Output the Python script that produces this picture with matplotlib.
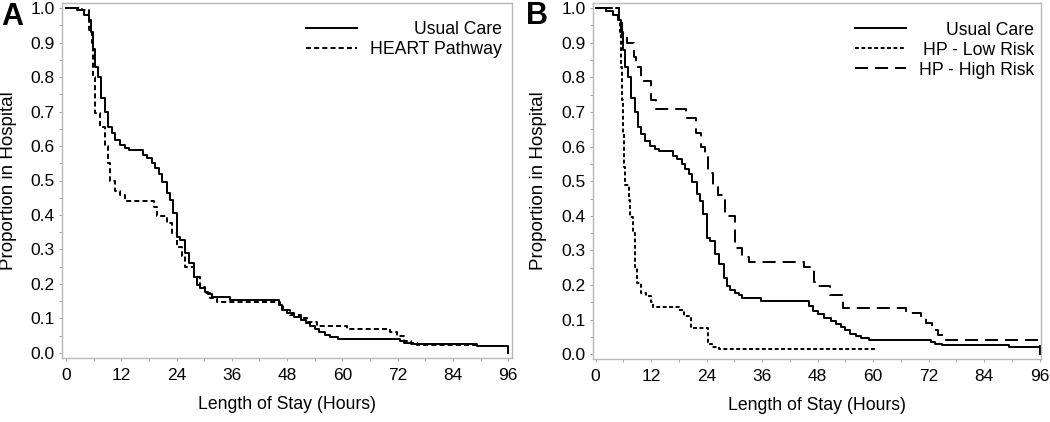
import matplotlib
matplotlib.use("Agg")
import matplotlib.pyplot as plt
from matplotlib.ticker import MultipleLocator
from matplotlib.lines import Line2D

plt.rcParams['font.family'] = ['Liberation Sans', 'DejaVu Sans']

# ---------------- data (hours, proportion still in hospital) ----------------
uc_t = [0, 2.3, 3.8, 4.9, 5.4, 5.9, 6.3, 7.0, 7.7, 8.5, 9.2, 9.9, 10.7, 11.7, 12.8,
        13.6, 16.8, 17.5, 18.6, 19.3, 20.1, 20.8, 21.9, 22.6, 23.3, 24.1, 24.8, 25.9,
        26.6, 27.7, 28.4, 29.1, 30.2, 30.9, 31.7, 35.7, 46.2, 46.9, 48.0, 49.4, 50.9,
        52.0, 53.0, 54.0, 54.9, 56.3, 57.4, 59.0, 72.6, 73.3, 74.8, 89.3, 96, 96]
uc_s = [1.0, 0.993, 0.98, 0.965, 0.93, 0.88, 0.83, 0.80, 0.74, 0.70, 0.656, 0.637,
        0.617, 0.603, 0.593, 0.588, 0.574, 0.564, 0.55, 0.535, 0.52, 0.497, 0.463,
        0.443, 0.405, 0.337, 0.328, 0.289, 0.26, 0.221, 0.197, 0.187, 0.178, 0.171,
        0.163, 0.154, 0.139, 0.125, 0.115, 0.105, 0.097, 0.088, 0.078, 0.07, 0.06,
        0.053, 0.047, 0.042, 0.035, 0.03, 0.027, 0.02, 0.02, 0.0]

hp_t = [0, 3.4, 4.9, 5.6, 5.9, 6.3, 7.4, 8.5, 9.2, 9.6, 10.7, 11.7, 12.8, 19.0, 19.7,
        21.9, 23.0, 24.1, 25.1, 25.9, 27.7, 29.1, 30.2, 31.3, 32.8, 46.5, 47.2, 48.7,
        50.9, 52.3, 54.5, 61.0, 70.4, 71.9, 73.3, 74.8, 76.2, 89.3]
hp_s = [1.0, 0.995, 0.936, 0.9, 0.8, 0.695, 0.656, 0.6, 0.55, 0.5, 0.47, 0.458, 0.44,
        0.424, 0.397, 0.376, 0.347, 0.308, 0.28, 0.25, 0.221, 0.192, 0.173, 0.158,
        0.149, 0.139, 0.125, 0.11, 0.1, 0.09, 0.078, 0.07, 0.062, 0.05, 0.035, 0.028,
        0.022, 0.022]

lr_t = [0, 5.0, 5.3, 5.5, 5.7, 5.8, 6.1, 6.4, 7.2, 7.5, 8.1, 8.4, 8.6, 9.0, 9.7, 10.8,
        11.9, 12.4, 18.1, 19.2, 20.6, 24.3, 25.2, 26.6, 60.4]
lr_s = [1.0, 0.96, 0.93, 0.83, 0.735, 0.64, 0.54, 0.49, 0.445, 0.396, 0.35, 0.3, 0.253,
        0.205, 0.176, 0.167, 0.152, 0.138, 0.128, 0.11, 0.075, 0.03, 0.02, 0.0145, 0.0145]

hr_t = [0, 5.1, 5.7, 6.8, 8.2, 8.8, 9.7, 11.9, 13.0, 19.6, 21.8, 22.8, 23.6, 24.3, 25.4,
        26.5, 27.9, 30.1, 31.6, 33.1, 45.1, 47.3, 48.0, 50.6, 53.5, 67.0, 70.3, 71.5,
        72.8, 74.0, 75.7, 96, 96]
hr_s = [1.0, 0.966, 0.923, 0.9, 0.86, 0.83, 0.79, 0.735, 0.708, 0.682, 0.64, 0.6, 0.57,
        0.523, 0.49, 0.46, 0.40, 0.306, 0.282, 0.266, 0.253, 0.21, 0.197, 0.171, 0.133,
        0.118, 0.104, 0.09, 0.07, 0.056, 0.04, 0.04, 0.0]

x_ticks = [0, 12, 24, 36, 48, 60, 72, 84, 96]
y_ticks = [0.0, 0.1, 0.2, 0.3, 0.4, 0.5, 0.6, 0.7, 0.8, 0.9, 1.0]

labels_A = ["Usual Care", "HEART Pathway"]
labels_B = ["Usual Care", "HP - Low Risk", "HP - High Risk"]

# ---------------- styling ----------------
W, H = 1050, 422
LW = 1.4
FS = 12.7
style_uc = dict(color='black', lw=LW, linestyle='-')
style_hp = dict(color='black', lw=LW, linestyle=(0, (2.6, 1.6)))
style_lr = dict(color='black', lw=LW, linestyle=(0, (2.0, 1.3)))
style_hr = dict(color='black', lw=LW, linestyle=(0, (6.7, 3.6)))

fig = plt.figure(figsize=(W / 100, H / 100), dpi=100)


def make_axes(l, r, t, b):
    return fig.add_axes([l / W, (H - b) / H, (r - l) / W, (b - t) / H])


axA = make_axes(62, 511.5, 3, 358)
axB = make_axes(593, 1041, 3, 359)

axA.set_xlim(-0.87, 96.7)
axA.set_ylim(-0.0145, 1.0145)
axB.set_xlim(-0.58, 96.3)
axB.set_ylim(-0.0136, 1.015)

axA.step(uc_t, uc_s, where='post', **style_uc)
axA.step(hp_t, hp_s, where='post', **style_hp)

axB.step(uc_t, uc_s, where='post', **style_uc)
axB.step(lr_t, lr_s, where='post', **style_lr)
axB.step(hr_t, hr_s, where='post', **style_hr)


def right_align_legend(leg):
    fig.canvas.draw()
    r = fig.canvas.get_renderer()
    texts = leg.get_texts()
    widths = [t.get_window_extent(r).width for t in texts]
    shift = max(widths)
    for t, w in zip(texts, widths):
        t.set_position((shift - w, 0))


legends = []
for ax, labels, styles, xr in [
        (axA, labels_A, [style_uc, style_hp], 0.978),
        (axB, labels_B, [style_uc, style_lr, style_hr], 0.984)]:
    ax.set_xticks(x_ticks)
    ax.set_yticks(y_ticks)
    ax.set_xticklabels([str(v) for v in x_ticks])
    ax.set_yticklabels([f"{v:.1f}" for v in y_ticks])
    ax.xaxis.set_minor_locator(MultipleLocator(6))
    ax.yaxis.set_minor_locator(MultipleLocator(0.05))
    ax.tick_params(which='both', direction='out', length=2.4, width=0.8,
                   color='#a8a8a8', labelsize=12.5, labelcolor='black')
    ax.tick_params(axis='x', which='major', pad=5.0)
    ax.tick_params(axis='y', which='major', pad=3.0)
    for sp in ax.spines.values():
        sp.set_color('#b8b8b8')
        sp.set_linewidth(1.0)
    ax.set_xlabel("Length of Stay (Hours)", fontsize=FS)
    ax.set_ylabel("Proportion in Hospital", fontsize=13.5)
    ax.xaxis.set_label_coords(0.5, -0.106)
    handles = [Line2D([], [], **s) for s in styles]
    leg = ax.legend(handles, labels, loc='upper right', bbox_to_anchor=(xr, 0.948),
                    frameon=False, borderpad=0, borderaxespad=0, fontsize=FS,
                    handlelength=2.9, handletextpad=0.7, labelspacing=0.17)
    legends.append(leg)

axA.yaxis.set_label_coords(-0.101, 0.5)
axB.yaxis.set_label_coords(-0.103, 0.5)

for leg in legends:
    right_align_legend(leg)

fig.text(1.5 / W, 1 - 25 / H, "A", fontsize=22, fontweight='bold', va='baseline', ha='left')
fig.text(526 / W, 1 - 24 / H, "B", fontsize=22, fontweight='bold', va='baseline', ha='left')

fig.savefig("out.png", dpi=100)
